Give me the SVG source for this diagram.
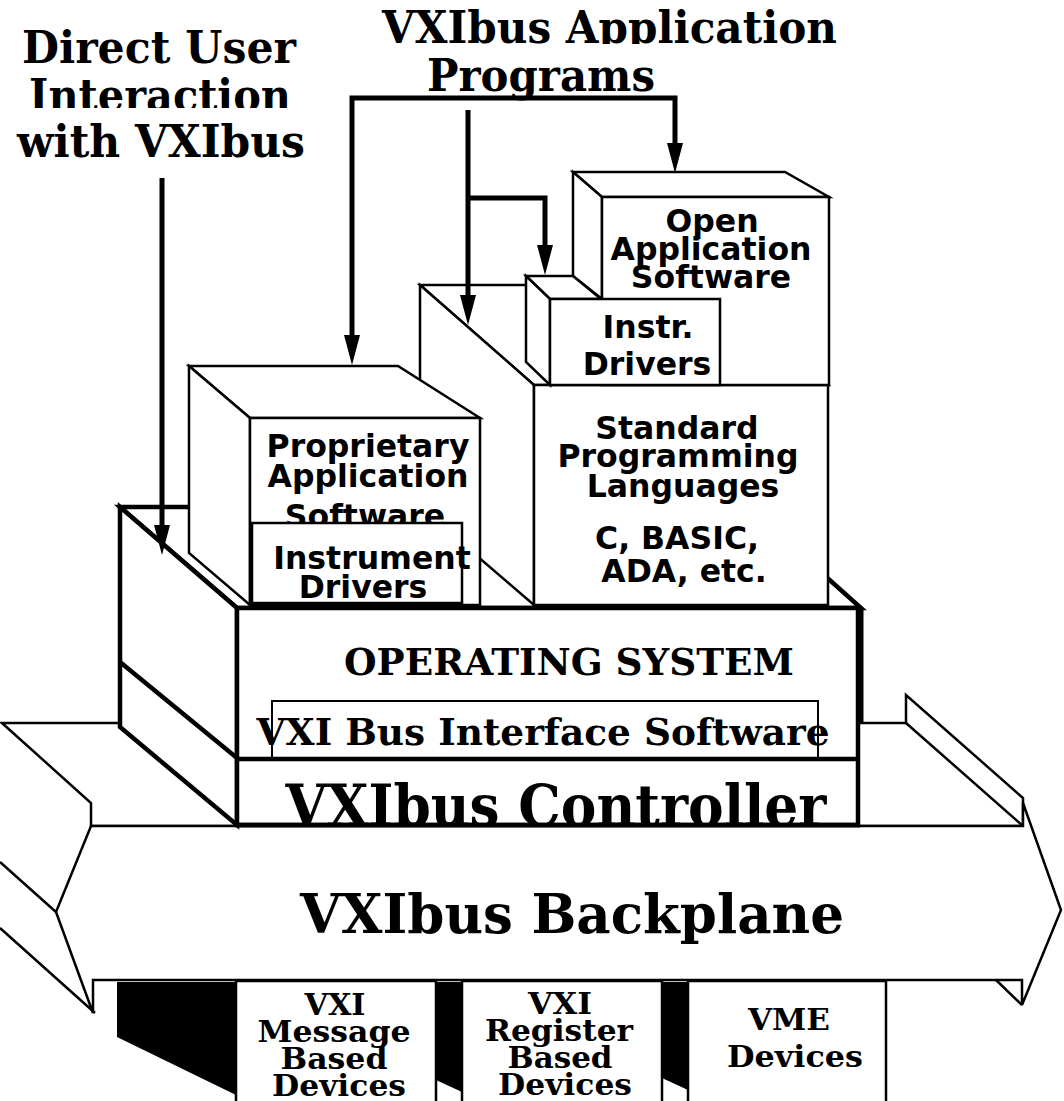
<svg xmlns="http://www.w3.org/2000/svg" width="1064" height="1101" viewBox="0 0 1064 1101">
<defs>
<style>
.f{fill:#fff;stroke:#000;stroke-width:2.5;stroke-linejoin:miter}
.t{fill:#fff;stroke:#000;stroke-width:2}
.k{fill:#fff;stroke:#000;stroke-width:4.5;stroke-linejoin:miter}
.l{fill:none;stroke:#000;stroke-width:2.5}
.lk{fill:none;stroke:#000;stroke-width:4.5}
.c{fill:none;stroke:#000;stroke-width:5;stroke-linejoin:miter}
.blk{fill:#000;stroke:none}
.ser{font-family:"DejaVu Serif","Liberation Serif",serif;font-weight:bold;text-anchor:middle;fill:#000}
.san{font-family:"DejaVu Sans","Liberation Sans",sans-serif;font-weight:bold;font-size:31.5px;text-anchor:middle;fill:#000}
.h{font-size:44px}
.dv{font-size:30px}
</style>
<marker id="ah" markerUnits="userSpaceOnUse" viewBox="0 0 30 16" refX="0" refY="8" markerWidth="30" markerHeight="16" orient="auto-start-reverse"><path d="M0,0 L30,8 L0,16 Z" fill="#000"/></marker>
</defs>
<rect width="1064" height="1101" fill="#fff"/>

<g id="title-direct-user">
<text class="ser h" x="159" y="63" textLength="274" lengthAdjust="spacingAndGlyphs">Direct User</text>
<text class="ser h" x="160" y="111" textLength="262" lengthAdjust="spacingAndGlyphs">Interaction</text>
<rect x="10" y="108" width="300" height="12" fill="#fff"/>
<text class="ser h" x="161" y="157" textLength="288" lengthAdjust="spacingAndGlyphs">with VXIbus</text>
</g>

<g id="title-application-programs">
<text class="ser h" x="609.5" y="43" textLength="455" lengthAdjust="spacingAndGlyphs">VXIbus Application</text>
<rect x="370" y="44" width="480" height="16" fill="#fff"/>
<text class="ser h" x="541" y="91" textLength="228" lengthAdjust="spacingAndGlyphs">Programs</text>
</g>

<g id="backplane">
<path class="l" d="M0,862 L56,912 M0,928 L95,1013 M995,979 L1022,1005"/>
<polygon class="f" points="2,723 906,723 906,695 1023,798 1023,826 91,826 91,803"/>
<line class="l" x1="906" y1="723" x2="1023" y2="826"/>
<path class="f" d="M91,826 H1023 V803 L1061,910 L1022,1005 V980 H93 V1013 L56,912 Z"/>
<text class="ser" x="572" y="933" font-size="55" textLength="544" lengthAdjust="spacingAndGlyphs">VXIbus Backplane</text>
</g>

<g id="vxi-message-devices">
<polygon class="blk" points="117,982 236,982 236,1095 117,1037"/>
<rect class="f" x="236" y="981" width="200" height="130"/>
<text class="ser dv" x="335" y="1015" textLength="61" lengthAdjust="spacingAndGlyphs">VXI</text>
<text class="ser dv" x="334" y="1042" textLength="153" lengthAdjust="spacingAndGlyphs">Message</text>
<text class="ser dv" x="334" y="1069" textLength="107" lengthAdjust="spacingAndGlyphs">Based</text>
<text class="ser dv" x="339" y="1096" textLength="134" lengthAdjust="spacingAndGlyphs">Devices</text>
</g>

<g id="vxi-register-devices">
<polygon class="blk" points="436,982 462,982 462,1092 436,1080"/>
<rect class="f" x="462" y="981" width="200" height="130"/>
<text class="ser dv" x="560" y="1014" textLength="64" lengthAdjust="spacingAndGlyphs">VXI</text>
<text class="ser dv" x="559" y="1041" textLength="148" lengthAdjust="spacingAndGlyphs">Register</text>
<text class="ser dv" x="560" y="1068" textLength="105" lengthAdjust="spacingAndGlyphs">Based</text>
<text class="ser dv" x="565" y="1095" textLength="134" lengthAdjust="spacingAndGlyphs">Devices</text>
</g>

<g id="vme-devices">
<polygon class="blk" points="662,982 688,982 688,1090 662,1078"/>
<rect class="f" x="688" y="981" width="198" height="130"/>
<text class="ser" x="789" y="1030" font-size="30" textLength="82" lengthAdjust="spacingAndGlyphs">VME</text>
<text class="ser" x="795" y="1067" font-size="30" textLength="136" lengthAdjust="spacingAndGlyphs">Devices</text>
</g>

<g id="operating-system">
<polygon class="k" points="120,507 748,507 861,608 237,608"/>
<polygon class="k" points="120,507 237,608 237,825 120,727"/>
<line class="lk" x1="120" y1="662" x2="237" y2="758"/>
<rect class="k" x="237" y="608" width="621" height="217"/>
<line x1="860" y1="608" x2="860" y2="723" stroke="#000" stroke-width="7"/>
<text class="ser" x="569" y="675" font-size="37" textLength="450" lengthAdjust="spacingAndGlyphs">OPERATING SYSTEM</text>
</g>

<g id="vxi-bus-interface-software">
<rect class="t" x="272" y="701" width="546" height="58"/>
<text class="ser" x="543" y="745" font-size="37" textLength="573" lengthAdjust="spacingAndGlyphs">VXI Bus Interface Software</text>
</g>

<g id="vxibus-controller">
<text class="ser" x="556" y="826" font-size="58" textLength="541" lengthAdjust="spacingAndGlyphs">VXIbus Controller</text>
<line class="lk" x1="237" y1="759" x2="858" y2="759"/>
<line class="lk" x1="237" y1="825" x2="860" y2="825"/>
</g>

<g id="standard-languages">
<polygon class="f" points="420,285 714,285 828,385 534,385"/>
<polygon class="f" points="420,285 534,385 534,605 420,507"/>
<rect class="f" x="534" y="385" width="294" height="220"/>
<text class="san" x="677" y="439">Standard</text>
<text class="san" x="678" y="467">Programming</text>
<text class="san" x="683" y="497">Languages</text>
<text class="san" x="677" y="549">C, BASIC,</text>
<text class="san" x="684" y="582">ADA, etc.</text>
</g>

<g id="open-application-software">
<polygon class="f" points="573,172 785,172 829,197 602,197"/>
<polygon class="f" points="573,172 602,197 602,299 573,276"/>
<rect class="f" x="602" y="197" width="227" height="188"/>
<text class="san" x="712" y="232">Open</text>
<text class="san" x="711" y="260">Application</text>
<text class="san" x="711" y="288">Software</text>
</g>

<g id="instr-drivers">
<polygon class="f" points="526,276 573,276 601,299 550,299"/>
<polygon class="f" points="526,276 550,299 550,385 526,362"/>
<rect class="f" x="550" y="299" width="170" height="86"/>
<text class="san" x="648" y="338">Instr.</text>
<text class="san" x="647" y="375">Drivers</text>
</g>

<g id="proprietary-application-software">
<polygon class="f" points="189,366 398,366 480,418 250,418"/>
<polygon class="f" points="189,366 250,418 250,605 189,553"/>
<rect class="f" x="250" y="418" width="230" height="187"/>
<text class="san" x="368" y="457">Proprietary</text>
<text class="san" x="368" y="487">Application</text>
<text class="san" x="365" y="527">Software</text>
</g>

<g id="instrument-drivers">
<rect class="f" x="252" y="523" width="210" height="80"/>
<text class="san" x="372" y="569">Instrument</text>
<text class="san" x="363" y="598">Drivers</text>
</g>

<g id="connectors">
<path class="c" d="M162,178 V525" marker-end="url(#ah)"/>
<path class="c" d="M352,335 V98 H675 V143" marker-start="url(#ah)" marker-end="url(#ah)"/>
<path class="c" d="M468,110 V295" marker-end="url(#ah)"/>
<path class="c" d="M468,198 H545 V245" marker-end="url(#ah)"/>
</g>
</svg>
